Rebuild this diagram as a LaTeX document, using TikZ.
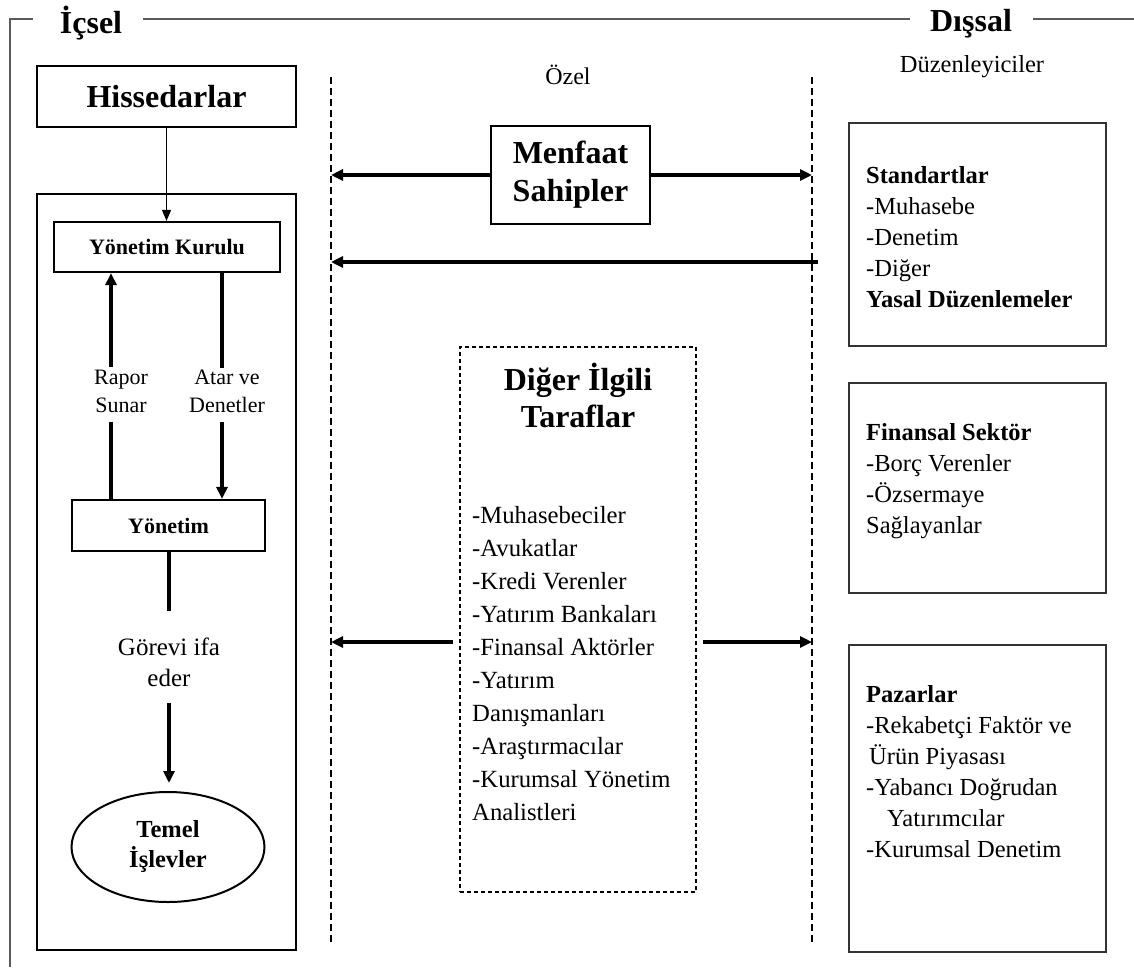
\documentclass[tikz,border=0pt]{standalone}
\usepackage{fontspec}
\setmainfont{Liberation Serif}
\usetikzlibrary{arrows.meta,shapes.geometric}
\definecolor{framegray}{HTML}{5A5A5A}
\definecolor{boxgray}{HTML}{333333}
\begin{document}
\begin{tikzpicture}[x=1pt,y=-1pt,
  frame/.style={draw=framegray, line width=2pt},
  solidbox/.style={draw, line width=2.2pt, inner sep=0pt, align=center},
  sidebox/.style={draw=boxgray, line width=1.6pt, inner sep=0pt,
    minimum width=257pt},
  bigbold/.style={font=\fontsize{32}{38}\selectfont\bfseries},
  headbold/.style={font=\fontsize{32}{38}\selectfont\bfseries},
  midbold/.style={font=\fontsize{22}{28}\selectfont\bfseries},
  label/.style={align=center, inner sep=0pt, font=\fontsize{22}{28}\selectfont},
  listtext/.style={align=left, inner sep=0pt, anchor=west,
    font=\fontsize{24.5}{31}\selectfont},
  vdash/.style={line width=2pt, dash pattern=on 7pt off 4pt},
  fat/.style={line width=3.8pt},
  fatarr/.style={line width=3.6pt, -{Triangle[length=12pt,width=11pt]}},
  thinarr/.style={line width=1.3pt, -{Triangle[length=11pt,width=9pt]}}]

\useasboundingbox (0,0) rectangle (1134,967);

% outer bracket with the two headings
\node[headbold, inner sep=0pt, anchor=base] (icsel) at (91,33) {İçsel};
\node[headbold, inner sep=0pt, anchor=base] (dissal) at (971,31) {Dışsal};
\draw[frame] (33,18.5) -| (10,967);
\draw[frame] (143,18.5) -- (910,18.5);
\draw[frame] (1033,18.5) -- (1134,18.5);

% internal column
\node[solidbox, bigbold, minimum width=259pt, minimum height=61pt] (hiss) at (166.5,96.5) {Hissedarlar};
\node[draw, line width=2pt, minimum width=259pt, minimum height=756pt, inner sep=0pt] (inner) at (166.5,572) {};
\node[solidbox, midbold, fill=white, minimum width=226pt, minimum height=50pt] (yk) at (167,247) {Yönetim Kurulu};
\node[solidbox, midbold, minimum width=193pt, minimum height=51pt] (yon) at (168.5,525.5) {Yönetim};
\node[draw, ellipse, line width=2pt, inner sep=0pt, minimum width=193pt, minimum height=110pt,
  align=center, font=\fontsize{24.5}{30}\selectfont\bfseries] (ell) at (168,847) {Temel\\İşlevler};

\node[label] (rapor) at (121,391) {Rapor\\Sunar};
\node[label] (atar) at (227,391) {Atar ve\\Denetler};
\node[label, font=\fontsize{25}{31}\selectfont] (gorev) at (169,662.5) {Görevi ifa\\eder};

\coordinate (ra1) at (111,367);
\coordinate (ra2) at (111,422);
\coordinate (at1) at (222,368);
\coordinate (at2) at (222,422);
\coordinate (g1) at (169,611);
\coordinate (g2) at (169,703);
\coordinate (g3) at (169,783);

\draw[thinarr] (hiss.south) -- (hiss.south |- yk.north);
\draw[fatarr] (ra1) -- (ra1 |- yk.south);
\draw[fat] (ra2) -- (ra2 |- yon.north);
\draw[fat] (at1 |- yk.south) -- (at1);
\draw[fatarr] (at2) -- (at2 |- yon.north);
\draw[fat] (g1 |- yon.south) -- (g1);
\draw[fatarr] (g2) -- (g3);

% private zone between the dashed borders
\coordinate (dlt) at (331,77);
\coordinate (dlb) at (331,942);
\coordinate (drt) at (812,77);
\coordinate (drb) at (812,942);
\draw[vdash] (dlt) -- (dlb);
\draw[vdash] (drt) -- (drb);

\node[font=\fontsize{24}{30}\selectfont, inner sep=0pt] (ozel) at (568,75) {Özel};
\node[font=\fontsize{24.5}{30}\selectfont, inner sep=0pt, anchor=base] (duz) at (972,72) {Düzenleyiciler};

\node[solidbox, bigbold, line width=2pt, minimum width=159pt, minimum height=98pt] (men) at (570.5,175) {Menfaat\\Sahipler};
\draw[fatarr] (men.west) -- (men.west -| dlt);
\draw[fatarr] (men.east) -- (men.east -| drt);
\coordinate (r2) at (818,262);
\draw[fatarr] (r2) -- (r2 -| dlt);

\node[draw, line width=1.2pt, dash pattern=on 4pt off 3pt, minimum width=236pt,
  minimum height=545pt, inner sep=0pt] (dig) at (578,619.5) {};
\node[align=center, inner sep=0pt, font=\fontsize{32}{37}\selectfont\bfseries] (digt) at (578,395) {Diğer İlgili\\Taraflar};
\node[listtext, font=\fontsize{24.7}{33}\selectfont] (digl) at (472,664)
  {-Muhasebeciler\\-Avukatlar\\-Kredi Verenler\\-Yatırım Bankaları\\-Finansal Aktörler\\-Yatırım\\Danışmanları\\-Araştırmacılar\\-Kurumsal Yönetim\\Analistleri};
\coordinate (fl) at (453,642);
\coordinate (fr) at (703,642);
\draw[fatarr] (fl) -- (fl -| dlt);
\draw[fatarr] (fr) -- (fr -| drt);

% external column
\node[sidebox, minimum height=223pt] (std) at (977.5,234.5) {};
\node[listtext] (stdt) at (866,237)
  {\textbf{Standartlar}\\-Muhasebe\\-Denetim\\-Diğer\\\textbf{Yasal Düzenlemeler}};
\node[sidebox, minimum height=210pt] (fin) at (977.5,488) {};
\node[listtext] (fint) at (866,481)
  {\textbf{Finansal Sektör}\\-Borç Verenler\\-Özsermaye\\Sağlayanlar};
\node[sidebox, minimum height=307pt] (paz) at (977.5,798.5) {};
\node[listtext] (pazt) at (866,772)
  {\textbf{Pazarlar}\\-Rekabetçi Faktör ve\\\hspace*{3pt}Ürün Piyasası\\-Yabancı Doğrudan\\\hspace*{21pt}Yatırımcılar\\-Kurumsal Denetim};
\end{tikzpicture}
\end{document}
